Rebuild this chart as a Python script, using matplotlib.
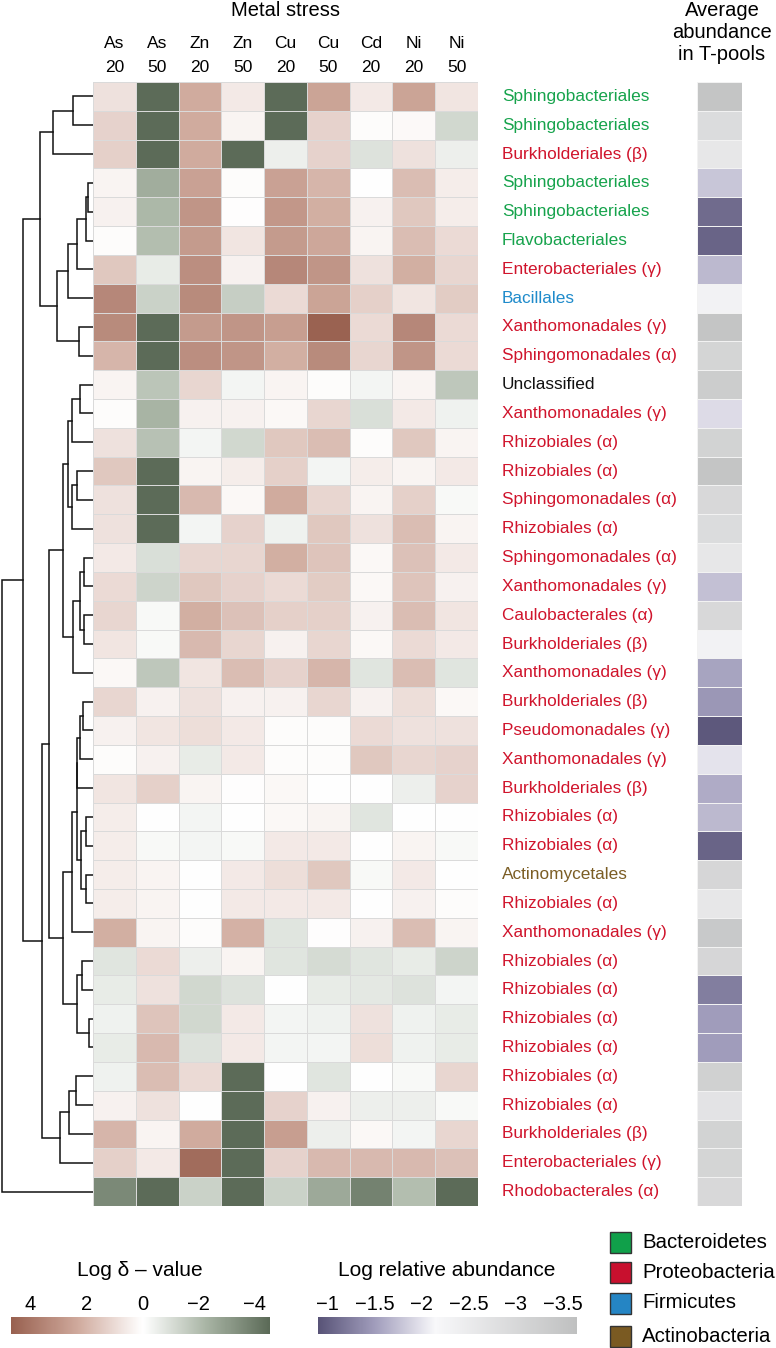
import numpy as np
import matplotlib.pyplot as plt
from matplotlib.colors import LinearSegmentedColormap, Normalize
from matplotlib.cm import ScalarMappable
from matplotlib.patches import Rectangle

plt.rcParams['font.family'] = ['Liberation Sans', 'DejaVu Sans']

metals = ['As', 'As', 'Zn', 'Zn', 'Cu', 'Cu', 'Cd', 'Ni', 'Ni']
doses = ['20', '50', '20', '50', '20', '50', '20', '20', '50']

orders = ['Sphingobacteriales', 'Sphingobacteriales', 'Burkholderiales (β)',
          'Sphingobacteriales', 'Sphingobacteriales', 'Flavobacteriales',
          'Enterobacteriales (γ)', 'Bacillales', 'Xanthomonadales (γ)',
          'Sphingomonadales (α)', 'Unclassified', 'Xanthomonadales (γ)',
          'Rhizobiales (α)', 'Rhizobiales (α)', 'Sphingomonadales (α)',
          'Rhizobiales (α)', 'Sphingomonadales (α)', 'Xanthomonadales (γ)',
          'Caulobacterales (α)', 'Burkholderiales (β)', 'Xanthomonadales (γ)',
          'Burkholderiales (β)', 'Pseudomonadales (γ)', 'Xanthomonadales (γ)',
          'Burkholderiales (β)', 'Rhizobiales (α)', 'Rhizobiales (α)',
          'Actinomycetales', 'Rhizobiales (α)', 'Xanthomonadales (γ)',
          'Rhizobiales (α)', 'Rhizobiales (α)', 'Rhizobiales (α)',
          'Rhizobiales (α)', 'Rhizobiales (α)', 'Rhizobiales (α)',
          'Burkholderiales (β)', 'Enterobacteriales (γ)', 'Rhodobacterales (α)']

# B = Bacteroidetes, P = Proteobacteria, F = Firmicutes, A = Actinobacteria, U = unclassified
phyla = list('BBPBBBPFPPUPPPPPPPPPPPPPPPPAPPPPPPPPPPP')

# log delta-value, rows top to bottom, columns As20 ... Ni50
delta = [
    [0.8, -4.5, 2.3, 0.6, -4.5, 2.5, 0.6, 2.5, 0.7],
    [1.2, -4.5, 2.3, 0.3, -4.5, 1.2, 0.1, 0.15, -1.2],
    [1.3, -4.5, 2.3, -4.5, -0.5, 1.2, -0.9, 0.8, -0.5],
    [0.3, -2.5, 2.6, 0.1, 2.6, 2.0, 0.0, 1.8, 0.5],
    [0.4, -2.2, 3.0, 0.05, 2.9, 2.2, 0.4, 1.5, 0.5],
    [0.1, -2.0, 2.8, 0.7, 2.8, 2.4, 0.3, 1.8, 1.0],
    [1.5, -0.6, 3.2, 0.4, 3.4, 3.0, 0.8, 2.2, 1.1],
    [3.4, -1.4, 3.3, -1.5, 1.0, 2.5, 1.3, 0.7, 1.4],
    [3.3, -4.5, 2.8, 3.0, 2.7, 4.6, 1.0, 3.4, 1.0],
    [2.0, -4.5, 3.2, 3.0, 2.2, 3.3, 1.1, 3.0, 1.0],
    [0.3, -1.8, 1.1, -0.3, 0.3, 0.1, -0.3, 0.3, -1.7],
    [0.1, -2.3, 0.4, 0.4, 0.2, 1.1, -1.0, 0.6, -0.4],
    [0.8, -1.9, -0.3, -1.2, 1.5, 1.8, 0.1, 1.5, 0.3],
    [1.5, -4.5, 0.3, 0.5, 1.3, -0.3, 0.5, 0.3, 0.6],
    [0.8, -4.5, 1.9, 0.2, 2.3, 1.1, 0.3, 1.3, -0.2],
    [0.8, -4.5, -0.3, 1.2, -0.4, 1.5, 0.8, 1.8, 0.3],
    [0.6, -1.0, 1.1, 1.1, 2.2, 1.6, 0.2, 1.7, 0.6],
    [1.0, -1.3, 1.5, 1.2, 1.0, 1.4, 0.2, 1.6, 0.4],
    [1.1, -0.2, 2.2, 1.7, 1.3, 1.3, 0.4, 1.8, 0.7],
    [0.7, -0.2, 1.9, 1.1, 0.4, 1.1, 0.2, 1.0, 0.6],
    [0.2, -1.7, 0.7, 1.8, 1.2, 2.0, -0.8, 1.8, -0.8],
    [1.1, 0.4, 0.8, 0.4, 0.4, 1.1, 0.4, 0.9, 0.2],
    [0.4, 0.7, 0.9, 0.6, 0.1, 0.1, 1.0, 0.8, 0.8],
    [0.1, 0.4, -0.6, 0.6, 0.1, 0.1, 1.5, 1.1, 1.2],
    [0.7, 1.3, 0.3, 0.05, 0.2, 0.0, 0.0, -0.5, 1.2],
    [0.5, 0.0, -0.3, 0.0, 0.2, 0.3, -0.8, 0.0, 0.0],
    [0.5, -0.2, -0.3, -0.2, 0.6, 0.6, 0.0, 0.3, -0.2],
    [0.5, 0.3, 0.0, 0.6, 0.9, 1.5, -0.2, 0.6, 0.0],
    [0.5, 0.3, 0.0, 0.6, 0.6, 0.6, 0.0, 0.4, 0.1],
    [2.2, 0.3, 0.1, 2.1, -0.8, 0.05, 0.4, 1.8, 0.3],
    [-0.8, 1.0, -0.5, 0.3, -0.8, -1.1, -0.8, -0.6, -1.3],
    [-0.6, 0.8, -1.2, -0.9, 0.0, -0.6, -0.7, -0.9, -0.3],
    [-0.4, 1.6, -1.2, 0.6, -0.3, -0.4, 0.8, -0.4, -0.6],
    [-0.6, 1.9, -0.9, 0.6, -0.3, -0.3, 0.9, -0.4, -0.6],
    [-0.4, 1.8, 1.0, -4.5, 0.0, -0.8, 0.0, -0.2, 1.1],
    [0.4, 0.8, 0.0, -4.5, 1.2, 0.4, -0.5, -0.5, -0.2],
    [2.0, 0.3, 2.3, -4.5, 2.7, -0.5, 0.2, -0.3, 1.1],
    [1.3, 0.6, 4.3, -4.5, 1.2, 1.9, 1.9, 1.9, 1.7],
    [-3.6, -4.5, -1.4, -4.5, -1.4, -2.6, -3.8, -2.0, -4.5],
]

# log relative abundance in T-pools
abundance = [-3.5, -2.9, -2.6, -1.8, -1.1, -1.05, -1.7, -2.3, -3.5, -3.1,
             -3.3, -1.95, -3.15, -3.5, -3.0, -2.9, -2.6, -1.75, -3.0, -2.3,
             -1.55, -1.45, -0.95, -2.0, -1.6, -1.7, -1.05, -3.05, -2.6, -3.4,
             -3.05, -1.25, -1.5, -1.5, -3.2, -2.7, -3.15, -3.1, -3.0]

# dendrogram: (left, right, distance), leaves are row indices
a_top = ((0, 1, 0.219), 2, 0.437)
a_bot = (((((3, 4, 0.054), 5, 0.076), 6, 0.175), 7, 0.273), (8, 9, 0.153), 0.393)
clade_a = (a_top, a_bot, 0.579)
b1 = (((10, 11, 0.142), 12, 0.225), ((13, 14, 0.175), 15, 0.232), 0.273)
b2 = (((16, 17, 0.098), (18, 19, 0.098), 0.142), 20, 0.219)
b_10_20 = (b1, b2, 0.328)
c1 = ((((21, 22, 0.109), 23, 0.142), 24, 0.171),
      ((25, 26, 0.076), (27, 28, 0.076), 0.131), 0.180)
c2 = (c1, 29, 0.229)
c3 = ((30, 31, 0.120), (32, 33, 0.043), 0.175)
clade_c = (c2, c3, 0.328)
clade_b1 = (b_10_20, clade_c, 0.481)
clade_b2 = (((34, 35, 0.186), 36, 0.262), 37, 0.361)
clade_b = (clade_b1, clade_b2, 0.557)
tree = ((clade_a, clade_b, 0.765), 38, 1.0)

phylum_colors = {'B': '#16a34c', 'P': '#d0142c', 'F': '#1f8bcb',
                 'A': '#7b5d24', 'U': '#111111'}
legend_names = [('Bacteroidetes', '#10a04a'), ('Proteobacteria', '#c8102e'),
                ('Firmicutes', '#2585c4'), ('Actinobacteria', '#7a5a22')]

W, H = 776, 1348
TOP, BOTTOM = 82, 1206
fig = plt.figure(figsize=(W / 100, H / 100), dpi=100)


def box(x0, y0, x1, y1):
    return [x0 / W, 1 - y1 / H, (x1 - x0) / W, (y1 - y0) / H]


# colour maps
d_min, d_max = -4.55, 4.7
mid = (0 - d_min) / (d_max - d_min)
cmap_d = LinearSegmentedColormap.from_list(
    'delta', [(0, '#5b6a57'), (mid / 2, '#a9b5a5'), (mid, '#ffffff'),
              (mid + (1 - mid) / 2, '#cfa99c'), (1, '#98604f')])
norm_d = Normalize(d_min, d_max)

a_min, a_max = -3.65, -0.9
cmap_a = LinearSegmentedColormap.from_list(
    'abund', [(0, '#bfc0c0'), ((-2.15 - a_min) / (a_max - a_min), '#f8f8fa'),
              ((-1.5 - a_min) / (a_max - a_min), '#a19dbc'), (1, '#585377')])
norm_a = Normalize(a_min, a_max)

n = len(orders)
row_h = (BOTTOM - TOP) / n

# heatmap
ax = fig.add_axes(box(93, TOP, 478, BOTTOM))
ax.pcolormesh(np.array(delta), cmap=cmap_d, norm=norm_d,
              edgecolors='#dadada', linewidth=0.6)
ax.set_xlim(0, 9)
ax.set_ylim(n, 0)
ax.axis('off')

for j, (m, d) in enumerate(zip(metals, doses)):
    ax.text(j + 0.5, (43 - TOP) / row_h, m, ha='center', va='center',
            fontsize=12.5, clip_on=False)
    ax.text(j + 0.5, (67 - TOP) / row_h, d, ha='center', va='center',
            fontsize=12.5, clip_on=False)
ax.text(4.5, (10 - TOP) / row_h, 'Metal stress', ha='center', va='center',
        fontsize=14.5, clip_on=False)

for i, (lab, ph) in enumerate(zip(orders, phyla)):
    ax.text(9.56, i + 0.5, lab, color=phylum_colors[ph], ha='left', va='center',
            fontsize=12.4, clip_on=False)

# average abundance column
axa = fig.add_axes(box(697, TOP, 742, BOTTOM))
axa.pcolormesh(np.array(abundance)[:, None], cmap=cmap_a, norm=norm_a,
               edgecolors='#f2f2f2', linewidth=0.5)
axa.set_ylim(n, 0)
axa.axis('off')
for k, t in enumerate(['Average', 'abundance', 'in T-pools']):
    fig.text(722 / W, 1 - (10 + 22 * k) / H, t, ha='center', va='center', fontsize=14.5)

# dendrogram
axd = fig.add_axes(box(0, TOP, 93, BOTTOM))


def draw(node):
    if isinstance(node, int):
        return node + 0.5, 0.0
    left, right, dist = node
    y1, d1 = draw(left)
    y2, d2 = draw(right)
    axd.plot([d1, dist, dist, d2], [y1, y1, y2, y2], color='#111111', lw=1.1,
             solid_joinstyle='miter')
    return (y1 + y2) / 2, dist


draw(tree)
axd.set_xlim(1.017, 0)
axd.set_ylim(n, 0)
axd.axis('off')

# colour bars
cax1 = fig.add_axes(box(11, 1317, 270, 1334))
cb1 = fig.colorbar(ScalarMappable(norm=norm_d, cmap=cmap_d), cax=cax1,
                   orientation='horizontal')
cb1.outline.set_visible(False)
cax1.invert_xaxis()
cb1.set_ticks([4, 2, 0, -2, -4])
cb1.set_ticklabels(['4', '2', '0', '−2', '−4'])
cax1.xaxis.set_ticks_position('top')
cax1.tick_params(length=0, pad=2.5, labelsize=14.5)
fig.text(140 / W, 1 - 1270 / H, 'Log δ – value', ha='center', va='center', fontsize=15)

cax2 = fig.add_axes(box(318, 1317, 577, 1334))
cb2 = fig.colorbar(ScalarMappable(norm=norm_a, cmap=cmap_a), cax=cax2,
                   orientation='horizontal')
cb2.outline.set_visible(False)
cax2.invert_xaxis()
cb2.set_ticks([-1, -1.5, -2, -2.5, -3, -3.5])
cb2.set_ticklabels(['−1', '−1.5', '−2', '−2.5', '−3', '−3.5'])
cax2.xaxis.set_ticks_position('top')
cax2.tick_params(length=0, pad=2.5, labelsize=14.5)
fig.text(447 / W, 1 - 1270 / H, 'Log relative abundance', ha='center', va='center', fontsize=15)

# phylum legend
for k, (name, col) in enumerate(legend_names):
    yc = [1242.5, 1272.5, 1303, 1336.5][k]
    fig.patches.append(Rectangle((610 / W, 1 - (yc + 10.5) / H), 21 / W, 21 / H,
                                 transform=fig.transFigure, facecolor=col,
                                 edgecolor='#333333', lw=1))
    fig.text(642 / W, 1 - yc / H, name, ha='left', va='center', fontsize=14.7)

fig.savefig('out.png', dpi=100)
